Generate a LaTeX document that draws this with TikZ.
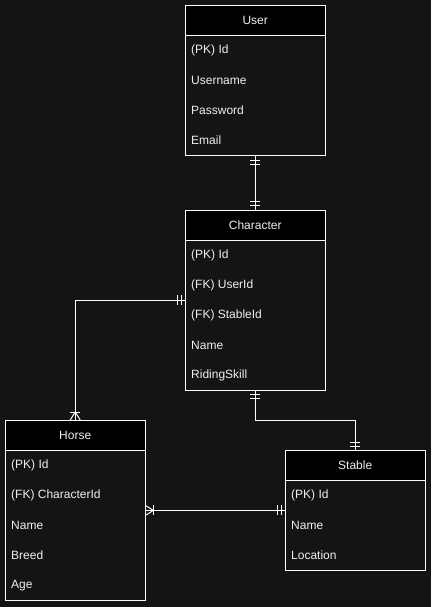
\documentclass[tikz,border=0pt]{standalone}
\usepackage{fontspec}
\setmainfont{Liberation Sans}
\usetikzlibrary{positioning,calc}
\definecolor{bg}{RGB}{20,20,20}
\definecolor{ink}{RGB}{240,240,240}

\begin{document}
\begin{tikzpicture}[x=1pt,y=-1pt,
    head/.style={draw=white,fill=black,text=ink,minimum width=140pt,minimum height=30pt,
        inner sep=0pt,font=\fontsize{12}{14}\selectfont,anchor=north west},
    body/.style={draw=white,fill=bg,minimum width=140pt,inner sep=0pt,anchor=north},
    row/.style={text=ink,inner sep=0pt,anchor=west,font=\fontsize{12}{14}\selectfont},
    rel/.style={draw=white,line width=1pt}]

    % background
    \fill[bg] (0,0) rectangle (431,607);
    \useasboundingbox (0,0) rectangle (431,607);

    % entities
    \node[head] (user) at (185,5) {User};
    \node[body,minimum height=120pt] (userbody) at (user.south) {};
    \foreach \t [count=\i] in {{(PK) Id},Username,Password,Email} {
        \node[row] (user\i) at ($(userbody.north west)+(6,\i*30-15)$) {\t};};

    \node[head] (character) at (185,210) {Character};
    \node[body,minimum height=150pt] (charbody) at (character.south) {};
    \foreach \t [count=\i] in {{(PK) Id},{(FK) UserId},{(FK) StableId},Name,RidingSkill} {
        \node[row] (char\i) at ($(charbody.north west)+(6,\i*30-15)$) {\t};};

    \node[head] (horse) at (5,420) {Horse};
    \node[body,minimum height=150pt] (horsebody) at (horse.south) {};
    \foreach \t [count=\i] in {{(PK) Id},{(FK) CharacterId},Name,Breed,Age} {
        \node[row] (horse\i) at ($(horsebody.north west)+(6,\i*30-15)$) {\t};};

    \node[head] (stable) at (285,450) {Stable};
    \node[body,minimum height=90pt] (stablebody) at (stable.south) {};
    \foreach \t [count=\i] in {{(PK) Id},Name,Location} {
        \node[row] (stable\i) at ($(stablebody.north west)+(6,\i*30-15)$) {\t};};

    % user - character
    \draw[rel] (userbody.south) -- (character.north);
    \draw[rel] ([shift={(-5,5)}]userbody.south) -- +(10,0);
    \draw[rel] ([shift={(-5,9)}]userbody.south) -- +(10,0);
    \draw[rel] ([shift={(-5,-5)}]character.north) -- +(10,0);
    \draw[rel] ([shift={(-5,-9)}]character.north) -- +(10,0);

    % character - horse
    \coordinate (c2h) at ($(charbody.north west)+(0,60)$);
    \draw[rel] (c2h) -| (horse.north);
    \draw[rel] ([shift={(-4,-5)}]c2h) -- +(0,10);
    \draw[rel] ([shift={(-8,-5)}]c2h) -- +(0,10);
    \draw[rel] ([shift={(-5,-8)}]horse.north) -- +(10,0);
    \draw[rel] ([shift={(-5,0)}]horse.north) -- ([shift={(0,-8)}]horse.north) -- ([shift={(5,0)}]horse.north);

    % character - stable
    \draw[rel] (charbody.south) -- ++(0,30) -| (stable.north);
    \draw[rel] ([shift={(-5,4)}]charbody.south) -- +(10,0);
    \draw[rel] ([shift={(-5,8)}]charbody.south) -- +(10,0);
    \draw[rel] ([shift={(-5,-4)}]stable.north) -- +(10,0);
    \draw[rel] ([shift={(-5,-8)}]stable.north) -- +(10,0);

    % horse - stable
    \coordinate (h2s) at ($(horsebody.north east)+(0,60)$);
    \coordinate (s2h) at ($(stablebody.north west)+(0,30)$);
    \draw[rel] (h2s) -- (s2h);
    \draw[rel] ([shift={(8,-5)}]h2s) -- +(0,10);
    \draw[rel] ([shift={(0,-5)}]h2s) -- ([shift={(8,0)}]h2s) -- ([shift={(0,5)}]h2s);
    \draw[rel] ([shift={(-4,-5)}]s2h) -- +(0,10);
    \draw[rel] ([shift={(-8,-5)}]s2h) -- +(0,10);

\end{tikzpicture}
\end{document}
